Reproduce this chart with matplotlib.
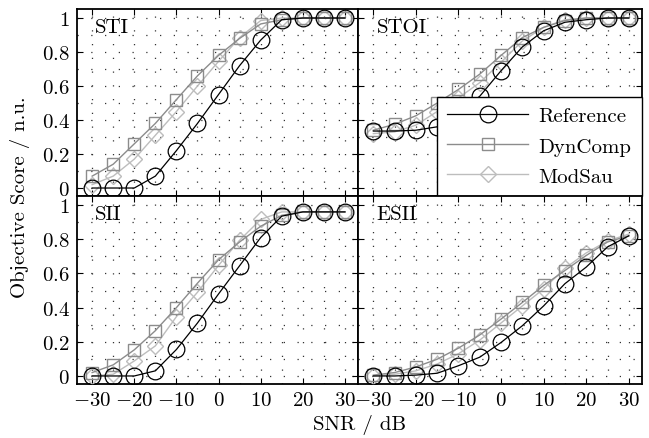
import matplotlib
matplotlib.use("Agg")
import matplotlib.pyplot as plt
from matplotlib.ticker import MultipleLocator

plt.rcParams["font.family"] = "serif"
plt.rcParams["font.serif"] = ["cmr10", "DejaVu Serif"]
plt.rcParams["mathtext.fontset"] = "cm"
plt.rcParams["axes.unicode_minus"] = False

snr = [-30, -25, -20, -15, -10, -5, 0, 5, 10, 15, 20, 25, 30]

# scores, one list per measure and method
sti_ref = [0.0, 0.0, 0.0, 0.07, 0.22, 0.38, 0.55, 0.72, 0.87, 0.99, 1.0, 1.0, 1.0]
sti_dyn = [0.07, 0.14, 0.26, 0.38, 0.52, 0.66, 0.78, 0.88, 0.965, 0.99, 1.0, 1.0, 1.0]
sti_mod = [0.02, 0.07, 0.17, 0.31, 0.45, 0.60, 0.745, 0.885, 0.985, 1.0, 1.0, 1.0, 1.0]

stoi_ref = [0.335, 0.335, 0.34, 0.36, 0.44, 0.54, 0.69, 0.83, 0.925, 0.975, 0.99, 1.0, 1.0]
stoi_dyn = [0.34, 0.375, 0.425, 0.50, 0.58, 0.67, 0.78, 0.885, 0.945, 0.985, 1.0, 1.0, 1.0]
stoi_mod = [0.32, 0.33, 0.37, 0.45, 0.53, 0.62, 0.74, 0.865, 0.945, 0.99, 1.0, 1.0, 1.0]

sii_ref = [0.0, 0.0, 0.0, 0.03, 0.155, 0.31, 0.48, 0.645, 0.81, 0.935, 0.96, 0.96, 0.96]
sii_dyn = [0.02, 0.065, 0.153, 0.265, 0.40, 0.543, 0.68, 0.784, 0.876, 0.94, 0.96, 0.96, 0.96]
sii_mod = [0.0, 0.01, 0.088, 0.176, 0.347, 0.49, 0.647, 0.794, 0.916, 0.96, 0.96, 0.96, 0.96]

esii_ref = [0.0, 0.0, 0.005, 0.016, 0.06, 0.11, 0.196, 0.294, 0.41, 0.54, 0.637, 0.755, 0.82]
esii_dyn = [0.005, 0.02, 0.053, 0.098, 0.163, 0.24, 0.333, 0.43, 0.53, 0.617, 0.705, 0.784, 0.82]
esii_mod = [0.0, 0.01, 0.03, 0.07, 0.13, 0.21, 0.31, 0.41, 0.51, 0.63, 0.72, 0.79, 0.83]

panels = [
    ("STI", sti_ref, sti_dyn, sti_mod),
    ("STOI", stoi_ref, stoi_dyn, stoi_mod),
    ("SII", sii_ref, sii_dyn, sii_mod),
    ("ESII", esii_ref, esii_dyn, esii_mod),
]

xticks = [-30, -20, -10, 0, 10, 20, 30]
xticklabels = ["$-30$", "$-20$", "$-10$", "$0$", "$10$", "$20$", "$30$"]
yticks = [0, 0.2, 0.4, 0.6, 0.8, 1.0]
yticklabels = ["$0$", "$0.2$", "$0.4$", "$0.6$", "$0.8$", "$1$"]

FS = 15
W, H = 649, 439
fig = plt.figure(figsize=(W / 100, H / 100), dpi=100)

x0, xm, x1 = 77 / W, 358 / W, 642 / W
y_top, y_mid, y_bot = 1 - 10 / H, 1 - 197 / H, 1 - 385 / H
boxes = [
    (x0, y_mid, xm - x0, y_top - y_mid),
    (xm, y_mid, x1 - xm, y_top - y_mid),
    (x0, y_bot, xm - x0, y_mid - y_bot),
    (xm, y_bot, x1 - xm, y_mid - y_bot),
]

axes = []
for i, (name, ref, dyn, mod) in enumerate(panels):
    ax = fig.add_axes(boxes[i])
    axes.append(ax)
    ax.plot(snr, mod, color="#bdbdbd", lw=1.0, marker="D", ms=8.5, mfc="none",
            mec="#bdbdbd", mew=1.0, label="ModSau", zorder=3)
    ax.plot(snr, dyn, color="#8c8c8c", lw=1.0, marker="s", ms=8.5, mfc="none",
            mec="#8c8c8c", mew=1.0, label="DynComp", zorder=4)
    ax.plot(snr, ref, color="black", lw=0.9, marker="o", ms=12, mfc="none",
            mec="black", mew=0.9, label="Reference", zorder=5)

    ax.set_xlim(-33.6, 33.1)
    ax.set_ylim(-0.047, 1.053)
    ax.xaxis.set_minor_locator(MultipleLocator(5))
    ax.yaxis.set_minor_locator(MultipleLocator(0.1))
    ax.set_xticks(xticks)
    ax.set_yticks(yticks)
    ax.grid(True, which="both", color="#333333", linestyle=(0, (1, 10)), lw=0.9)
    ax.tick_params(which="major", direction="in", length=4, top=True, right=True,
                   labelsize=FS, width=0.8, pad=5)
    ax.tick_params(which="minor", length=0)
    for s in ax.spines.values():
        s.set_linewidth(1.3)

    if i in (0, 2):
        ax.set_yticklabels(yticklabels)
    else:
        ax.set_yticklabels([])
    if i in (2, 3):
        ax.set_xticklabels(xticklabels)
    else:
        ax.set_xticklabels([])

    ax.text(0.065, 0.95, name, transform=ax.transAxes, fontsize=FS,
            ha="left", va="top")

handles, labels = axes[1].get_legend_handles_labels()
order = [2, 1, 0]
leg = axes[1].legend([handles[k] for k in order], [labels[k] for k in order],
                     loc="lower right", bbox_to_anchor=(1.0, 0.0), fontsize=FS,
                     handlelength=3.9, handletextpad=0.5, labelspacing=0.55,
                     borderpad=0.5, fancybox=False, framealpha=1,
                     edgecolor="black", borderaxespad=0.0)
leg.get_frame().set_linewidth(1.0)
leg.set_zorder(10)

fig.text(20 / W, (y_top + y_bot) / 2, "Objective Score / n.u.", rotation=90,
         ha="center", va="center", fontsize=FS)
fig.text((x0 + x1) / 2, 1 - 425 / H, "SNR / dB", ha="center", va="center",
         fontsize=FS)

fig.savefig("out.png", dpi=100)
